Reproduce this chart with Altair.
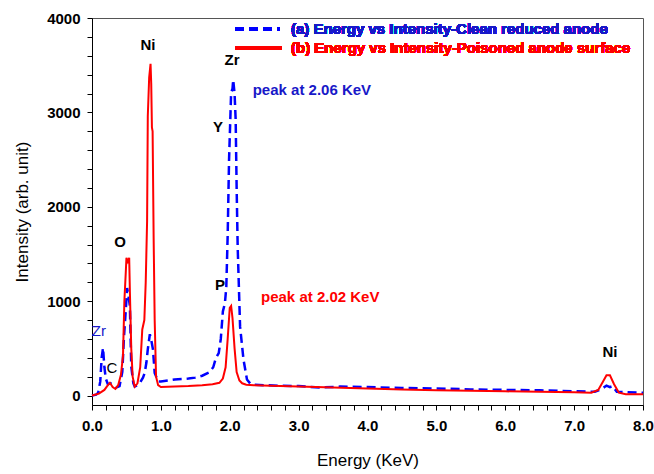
import altair as alt
import pandas as pd

# ---------------- data ----------------
series_a = "(a) Energy vs Intensity-Clean reduced anode"
series_b = "(b) Energy vs Intensity-Poisoned anode surface"

blue_energy = [0.00, 0.06, 0.09, 0.12, 0.14, 0.16, 0.18, 0.20, 0.23, 0.27, 0.31, 0.35, 0.40,
               0.44, 0.465, 0.49, 0.51, 0.53, 0.55, 0.57, 0.60, 0.62, 0.66, 0.70, 0.74,
               0.765, 0.79, 0.81, 0.84, 0.86, 0.885, 0.91, 0.96, 1.00, 1.1, 1.2, 1.3, 1.4,
               1.5, 1.6, 1.7, 1.76, 1.80, 1.84, 1.87, 1.90, 1.93, 1.95, 1.97, 1.99, 2.02,
               2.04, 2.05, 2.07, 2.086, 2.10, 2.115, 2.15, 2.20, 2.25, 2.30, 2.34, 2.5,
               2.7, 3.0, 3.3, 3.6, 4.0, 4.5, 5.0, 5.5, 6.0, 6.5, 7.0, 7.3, 7.4, 7.47,
               7.52, 7.56, 7.62, 7.75, 8.0]
blue_counts = [0, 10, 30, 150, 400, 505, 300, 180, 120, 130, 110, 85, 100,
               250, 630, 900, 1140, 1050, 950, 310, 130, 95, 110, 140, 190,
               240, 350, 490, 650, 590, 490, 240, 150, 150, 160, 170, 175, 180,
               190, 210, 245, 300, 400, 450, 600, 890, 980, 1150, 1700, 2500, 3210,
               3250, 3346, 3200, 2920, 2200, 1580, 730, 380, 170, 125, 115, 110,
               105, 100, 85, 95, 90, 80, 75, 65, 60, 55, 45, 40, 70, 106,
               90, 100, 40, 35, 30]

red_energy = [0.00, 0.10, 0.18, 0.22, 0.26, 0.30, 0.34, 0.38, 0.42, 0.45, 0.47, 0.49, 0.50,
              0.52, 0.54, 0.55, 0.57, 0.59, 0.62, 0.66, 0.70, 0.73, 0.76, 0.78, 0.80,
              0.81, 0.83, 0.85, 0.86, 0.87, 0.88, 0.895, 0.91, 0.93, 0.96, 1.00, 1.2,
              1.4, 1.6, 1.75, 1.85, 1.90, 1.94, 1.97, 2.00, 2.02, 2.04, 2.07, 2.10,
              2.14, 2.18, 2.24, 2.35, 2.6, 3.0, 3.5, 4.0, 4.5, 5.0, 5.5, 6.0, 6.5,
              7.0, 7.25, 7.35, 7.42, 7.47, 7.52, 7.58, 7.65, 7.75, 8.0]
red_counts = [0, 20, 60, 100, 135, 90, 70, 110, 220, 420, 1000, 1300, 1460,
              1420, 1460, 1100, 500, 200, 95, 130, 300, 700, 800, 1200, 1850,
              2960, 3370, 3515, 3300, 2840, 2800, 1670, 800, 200, 110, 90, 95,
              100, 110, 120, 135, 180, 300, 600, 930, 950, 820, 500, 250,
              160, 130, 115, 110, 105, 95, 85, 75, 65, 55, 50, 45, 40,
              35, 30, 60, 150, 215, 215, 120, 30, 15, 15]

# element / peak annotations
bold_labels = ["Ni", "Zr", "Y", "O", "P", "Ni"]
bold_x = [0.813, 2.033, 1.829, 0.407, 1.858, 7.52]
bold_y = [3714, 3555, 2845, 1627, 1172, 465]

thin_labels = ["Zr", "C"]
thin_x = [0.10, 0.29]
thin_y = [688, 292]
thin_colors = ["#1818c8", "#000000"]

peak_labels = ["peak at 2.06 KeV", "peak at 2.02 KeV"]
peak_x = [2.333, 2.454]
peak_y = [3237, 1041]
peak_colors = ["#1818c8", "#ff0000"]

x_ticks = [round(i * 0.2, 1) for i in range(41)]
y_ticks = list(range(0, 4001, 200))

FONT = "Liberation Sans"

blue_df = pd.DataFrame({"energy": blue_energy, "intensity": blue_counts, "series": series_a})
red_df = pd.DataFrame({"energy": red_energy, "intensity": red_counts, "series": series_b})
bold_df = pd.DataFrame({"label": bold_labels, "energy": bold_x, "intensity": bold_y})
thin_df = pd.DataFrame({"label": thin_labels, "energy": thin_x, "intensity": thin_y, "color": thin_colors})
peak_df = pd.DataFrame({"label": peak_labels, "energy": peak_x, "intensity": peak_y, "color": peak_colors})

xscale = alt.Scale(domain=[0, 8], nice=False, zero=False)
yscale = alt.Scale(domain=[-100, 4000], nice=False, zero=False)

x_axis = alt.Axis(values=x_ticks, tickSize=5, labelPadding=8,
                  labelExpr="abs(datum.value - round(datum.value)) < 0.001 ? format(datum.value, '.1f') : ''",
                  labelFont=FONT, labelFontSize=15, labelFontWeight="bold", labelColor="#000",
                  title="Energy (KeV)", titleFont=FONT, titleFontSize=17, titleFontWeight="normal",
                  titlePadding=19, titleColor="#000", grid=False, domainColor="#000",
                  tickColor="#000", labelFlush=False, labelOverlap=False)
y_axis = alt.Axis(values=y_ticks, tickSize=5, labelPadding=7,
                  labelExpr="datum.value % 1000 == 0 ? format(datum.value, 'd') : ''",
                  labelFont=FONT, labelFontSize=15, labelFontWeight="bold", labelColor="#000",
                  title="Intensity (arb. unit)", titleFont=FONT, titleFontSize=17,
                  titleFontWeight="normal", titlePadding=15, titleColor="#000", grid=False,
                  domainColor="#000", tickColor="#000", labelFlush=False, labelOverlap=False)


def X():
    return alt.X("energy:Q", scale=xscale, axis=x_axis)


def Y():
    return alt.Y("intensity:Q", scale=yscale, axis=y_axis)


blue_line = alt.Chart(blue_df).mark_line(color="#0000ff", strokeWidth=2.5, strokeDash=[9, 5]).encode(
    x=X(), y=Y(), order="energy:Q")
red_line = alt.Chart(red_df).mark_line(color="#ff0000", strokeWidth=2).encode(
    x=X(), y=Y(), order="energy:Q")

bold_text = alt.Chart(bold_df).mark_text(font=FONT, fontSize=15, fontWeight="bold",
                                          color="#000", align="center", baseline="middle").encode(
    x=X(), y=Y(), text="label:N")
thin_text = alt.Chart(thin_df).mark_text(font=FONT, fontSize=15, align="center", baseline="middle").encode(
    x=X(), y=Y(), text="label:N", color=alt.Color("color:N", scale=None))
peak_text = alt.Chart(peak_df).mark_text(font=FONT, fontSize=15, fontWeight="bold",
                                          align="left", baseline="middle").encode(
    x=X(), y=Y(), text="label:N", color=alt.Color("color:N", scale=None))

# legend (inside plot, top right)
leg_a_line = alt.Chart(blue_df).mark_rule(color="#0000ff", strokeWidth=2.5, strokeDash=[9, 5]).encode(
    x=alt.value(143), x2=alt.value(188), y=alt.value(11))
leg_b_line = alt.Chart(red_df).mark_rule(color="#ff0000", strokeWidth=2.5).encode(
    x=alt.value(143), x2=alt.value(190), y=alt.value(30))
leg_a_text = alt.Chart(blue_df).mark_text(font=FONT, fontSize=15, fontWeight="bold", color="#1818c8",
                                           align="left", baseline="middle", text=series_a).encode(
    x=alt.value(199), y=alt.value(11))
leg_b_text = alt.Chart(red_df).mark_text(font=FONT, fontSize=15, fontWeight="bold", color="#ff0000",
                                          align="left", baseline="middle", text=series_b).encode(
    x=alt.value(199), y=alt.value(30))

chart = alt.layer(
    blue_line, red_line, bold_text, thin_text, peak_text,
    leg_a_line, leg_b_line, leg_a_text, leg_b_text,
).properties(
    width=551, height=387,
    autosize=alt.AutoSizeParams(type="none"),
    padding={"left": 92, "top": 18, "right": 11, "bottom": 69},
    background="white",
).configure_view(stroke="#555", strokeWidth=1)

chart.save("out.html", embed_options={"renderer": "svg", "actions": False})
